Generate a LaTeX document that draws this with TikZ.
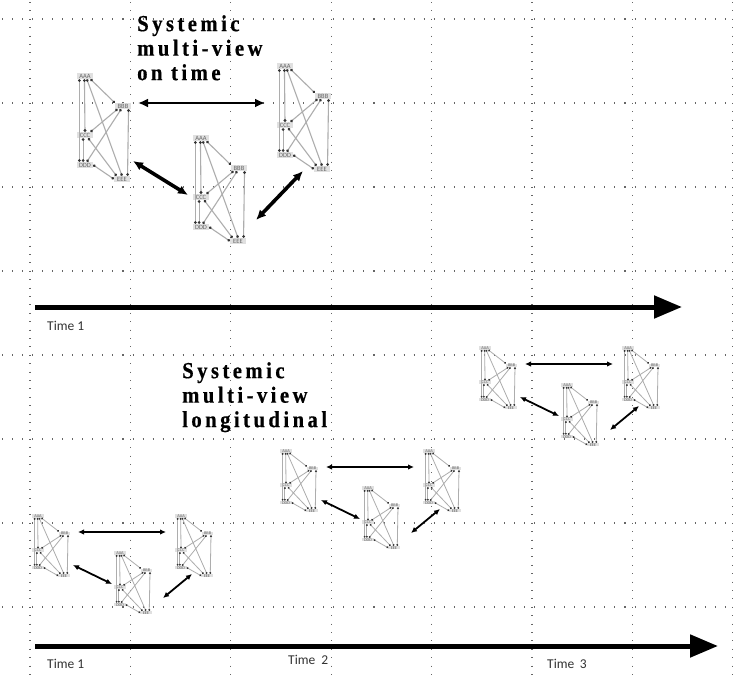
\documentclass[tikz,border=0pt]{standalone}
\usepackage{fontspec}
\setmainfont{Liberation Serif}
\newfontfamily\timefont{Carlito}
\newfontfamily\headfont[LetterSpace=15, FakeStretch=0.9, FakeBold=0.5]{Liberation Serif}
\usetikzlibrary{arrows.meta}

\tikzset{
  gridv/.style={draw=black!60, line width=1.05pt, dash pattern=on 1.05pt off 7.35pt},
  gridh/.style={draw=black!60, line width=1.05pt, dash pattern=on 1.05pt off 8.99pt},
  lbl/.style={font=\timefont\fontsize{6.5}{6.5}\selectfont, text=black!60,
    fill=black!12, inner sep=0pt, minimum width=16pt, minimum height=6pt},
  lk/.style={draw=black!32, line width=1.1pt,
    {Circle[length=2.6pt,color=black!80]}-{Circle[length=2.6pt,color=black!80]}},
  smallmotif/.style={
    lbl/.style={font=\timefont\fontsize{4.3}{4.3}\selectfont, text=black!60,
      fill=black!12, inner sep=0pt, minimum width=11.2pt, minimum height=3.5pt},
    lk/.style={draw=black!32, line width=0.8pt,
      {Circle[length=1.8pt,color=black!80]}-{Circle[length=1.8pt,color=black!80]}}},
  motif/.pic={
    \node[lbl] (-a) at (0,0) {AAA};
    \node[lbl] (-b) at (38,30) {BBB};
    \node[lbl] (-c) at (0,59) {CCC};
    \node[lbl] (-d) at (0,89) {DDD};
    \node[lbl] (-e) at (37,103) {EEE};
    \draw[lk] (-a.-30) -- (-b.north west);
    \draw[lk] (-a.-60) -- (-e.north);
    \draw[lk] (-a.-100) -- (-c.north);
    \draw[lk] (-a.-150) -- (-d.150);
    \draw[lk] (-b.-150) -- (-c.30);
    \draw[lk] (-b.-120) -- (-d.60);
    \draw[lk] (-b.-30) -- (-e.30);
    \draw[lk] (-c.-120) -- (-d.120);
    \draw[lk] (-c.-45) -- (-e.150);
    \draw[lk] (-d.east) -- (-e.west);
  },
  bigarr/.style={line width=#1, {Latex[length=10pt,width=9pt]}-{Latex[length=10pt,width=9pt]}},
  smallarr/.style={line width=1.8pt, {Latex[length=6pt,width=5.5pt]}-{Latex[length=6pt,width=5.5pt]}},
  timeline/.style={line width=5pt, -{Triangle[length=28pt,width=22pt]}},
  headtext/.style={font=\headfont\bfseries\fontsize{23}{24.5}\selectfont, align=left,
    inner sep=0pt, anchor=north west},
  timelbl/.style={font=\timefont\fontsize{13.5}{15}\selectfont, text=black!80, anchor=west, inner sep=0pt}
}

\begin{document}
\begin{tikzpicture}[x=1pt, y=-1pt]
  \fill[white] (0,0) rectangle (733,680);
  \useasboundingbox (0,0) rectangle (733,680);

  % dotted background grid
  \foreach \k in {0,...,7}{
    \draw[gridv] ({30+100.4*\k},2) -- ({30+100.4*\k},680);
    \draw[gridh] (2,{19+84*\k}) -- (733,{19+84*\k});
  }

  % headings
  \node[headtext] (head1) at (137,15) {Systemic\\multi-view\\on time};
  \node[headtext] (head2) at (182,362) {Systemic\\multi-view\\longitudinal};

  % upper row: three views at one time
  \pic (v1) at (85,76) {motif};
  \pic (v2) at (201,138) {motif};
  \pic (v3) at (285,66) {motif};
  \coordinate (h1) at (138,103);
  \coordinate (h2) at (265,103);
  \coordinate (d1) at (133,161);
  \coordinate (d2) at (188,195);
  \coordinate (d3) at (256,220);
  \coordinate (d4) at (303,171);
  \draw[bigarr=2.6pt] (h1) -- (h2);
  \draw[bigarr=3.6pt] (d1) -- (d2);
  \draw[bigarr=3.6pt] (d3) -- (d4);

  % upper time axis
  \coordinate (ta) at (35,307);
  \coordinate (tb) at (682,307);
  \draw[timeline] (ta) -- (tb);
  \node[timelbl] (tl1) at (47,326) {Time 1};

  % lower row: three groups of views along time
  \foreach \g/\ox/\oy in {1/38/516, 2/286/451, 3/485/348}{
    \begin{scope}[shift={(\ox,\oy)}, smallmotif]
      \pic[xscale=0.7, yscale=0.58] (g\g l) at (0,0) {motif};
      \pic[xscale=0.7, yscale=0.58] (g\g m) at (82,37) {motif};
      \pic[xscale=0.7, yscale=0.58] (g\g r) at (143,0) {motif};
      \coordinate (g\g p1) at (40,16);
      \coordinate (g\g p2) at (128,16);
      \coordinate (g\g p3) at (35,49);
      \coordinate (g\g p4) at (74,68);
      \coordinate (g\g p5) at (125,82);
      \coordinate (g\g p6) at (154,58);
      \draw[smallarr] (g\g p1) -- (g\g p2);
      \draw[smallarr] (g\g p3) -- (g\g p4);
      \draw[smallarr] (g\g p5) -- (g\g p6);
    \end{scope}
  }

  % lower time axis
  \coordinate (tc) at (35,646);
  \coordinate (td) at (718,646);
  \draw[timeline] (tc) -- (td);
  \node[timelbl] (tl2) at (47,664) {Time 1};
  \node[timelbl] (tl3) at (288,660) {Time\hspace{0.45em}2};
  \node[timelbl] (tl4) at (547,664) {Time\hspace{0.4em}3};
\end{tikzpicture}
\end{document}
